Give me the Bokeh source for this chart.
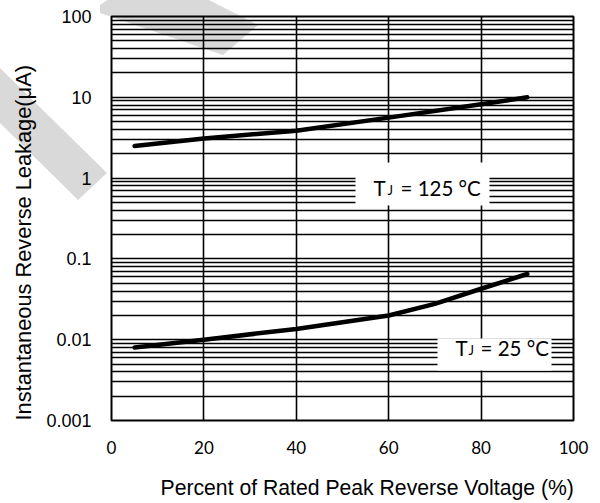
from bokeh.plotting import figure
from bokeh.models import FixedTicker, CustomJSTickFormatter, Title
from bokeh.core.properties import value
from bokeh.embed import file_html
from bokeh.resources import INLINE

# ---------------- data ----------------
X_TICKS = [0, 20, 40, 60, 80, 100]
Y_DECADES = [0.001, 0.01, 0.1, 1, 10, 100]
Y_MINOR_MULTIPLIERS = [2, 3, 4, 5, 6, 7, 8, 9]

pct_125 = [5, 20, 40, 60, 80, 90]
leak_125 = [2.5, 3.1, 3.85, 5.6, 8.2, 10.0]

pct_25 = [5, 20, 40, 60, 70, 80, 90]
leak_25 = [0.008, 0.0100, 0.0136, 0.0199, 0.0278, 0.0427, 0.065]

X_LABEL = "Percent of Rated Peak Reverse Voltage (%)"
Y_LABEL = "Instantaneous Reverse Leakage(\u03bcA)"

# ---------------- layout constants ----------------
W, H = 600, 503
FL, FR, FT, FB = 111, 573, 16, 420          # frame edges in canvas px
X0, X1 = 0, 100
LY0, LY1 = -3, 2                            # log10 range


def px_x(px):
    return X0 + (px - FL) / (FR - FL) * (X1 - X0)


def px_y(py):
    return 10 ** (LY0 + (FB - py) / (FB - FT) * (LY1 - LY0))


# light-grey watermark behind the (transparent) canvas
band1 = [(100, 13), (100, 5), (112, -3), (203, -3), (258, 25), (223, 55)]
band2 = [(-5, 63), (107, 173), (78, 200), (-5, 118)]


def pts(band):
    return " ".join(f"{a},{b}" for a, b in band)


wm_svg = ("<svg xmlns='http://www.w3.org/2000/svg' width='600' height='503'>"
          f"<polygon points='{pts(band1)}' fill='%23d9d9d9'/>"
          f"<polygon points='{pts(band2)}' fill='%23d9d9d9'/></svg>")

p = figure(width=W, height=H, y_axis_type="log",
           x_range=(X0, X1), y_range=(10 ** LY0, 10 ** LY1),
           output_backend="svg", toolbar_location=None,
           min_border_left=FL, min_border_right=W - FR,
           min_border_top=FT, min_border_bottom=H - FB,
           background_fill_color=None, border_fill_color=None)
p.styles = {"background-color": "white",
            "background-image": f'url("data:image/svg+xml;utf8,{wm_svg}")',
            "background-repeat": "no-repeat"}

p.outline_line_color = "black"
p.outline_line_width = 2

minor = [m * d for d in Y_DECADES[:-1] for m in Y_MINOR_MULTIPLIERS]
yt = FixedTicker(ticks=Y_DECADES, minor_ticks=minor)
xt = FixedTicker(ticks=X_TICKS)
p.yaxis.ticker = yt
p.xaxis.ticker = xt
p.ygrid.ticker = yt
p.xgrid.ticker = xt
p.yaxis.formatter = CustomJSTickFormatter(
    code="return String(parseFloat(tick.toPrecision(3)));")

for ax in (p.xaxis, p.yaxis):
    ax.axis_line_color = None
    ax.major_tick_line_color = None
    ax.minor_tick_line_color = None
    ax.major_tick_out = 0
    ax.major_tick_in = 0
    ax.minor_tick_out = 0
    ax.minor_tick_in = 0
    ax.major_label_text_color = "black"

p.yaxis.major_label_text_font = "Liberation Sans"
p.yaxis.major_label_text_font_size = "18px"
p.yaxis.major_label_standoff = 20
p.xaxis.major_label_text_font = "Lato"
p.xaxis.major_label_text_font_size = "17px"
p.xaxis.major_label_standoff = 20

for g in (p.xgrid, p.ygrid):
    g.grid_line_color = "black"
    g.grid_line_width = 1.6
    g.grid_line_alpha = 1
p.ygrid.minor_grid_line_color = "black"
p.ygrid.minor_grid_line_width = 1.6
p.xgrid.minor_grid_line_color = None

# curves
p.line(pct_125, leak_125, line_color="black", line_width=4.5,
       line_cap="round", line_join="round")
p.line(pct_25, leak_25, line_color="black", line_width=4.5,
       line_cap="round", line_join="round")

# white label boxes (cover the grid behind the temperature labels)
p.quad(left=[px_x(355), px_x(437)], right=[px_x(489), px_x(551)],
       top=[px_y(162), px_y(338)], bottom=[px_y(205), px_y(370)],
       fill_color="white", line_color=None)

BIG, SMALL = 20.5, 13
LATO_MID = 0.387   # baseline-to-middle distance of Lato, in em


def tj_label(x_t, x_j, x_rest, base_y, rest):
    common = dict(text_font=value("Lato"), text_color="black",
                  text_baseline="alphabetic", text_align="left")
    p.text(x=[px_x(x_t)], y=[px_y(base_y)], text=["T"],
           text_font_size=f"{BIG}px", y_offset=-LATO_MID * BIG, **common)
    p.text(x=[px_x(x_j)], y=[px_y(base_y)], text=["J"],
           text_font_size=f"{SMALL}px", y_offset=-LATO_MID * SMALL, **common)
    p.text(x=[px_x(x_rest)], y=[px_y(base_y)], text=[rest],
           text_font_size=f"{BIG}px", y_offset=-LATO_MID * BIG, **common)


tj_label(373, 387, 400, 195, "= 125 \u00b0C")
tj_label(455, 468, 480, 355, "= 25 \u00b0C")

# small blank spacer between the x tick labels and the x title
p.add_layout(Title(text="\u00a0", text_font_size="8px", standoff=5), "below")
# axis titles as side-panel titles (not clipped to the frame)
p.add_layout(Title(text=X_LABEL, align="left", offset=49,
                   text_font="Liberation Sans", text_font_size="21.2px",
                   text_font_style="normal", text_color="black",
                   standoff=3), "below")
p.add_layout(Title(text=Y_LABEL, align="left", offset=0,
                   text_font="Liberation Sans", text_font_size="21.8px",
                   text_font_style="normal", text_color="black",
                   standoff=16), "left")

open("out.html", "w").write(file_html(p, INLINE))
